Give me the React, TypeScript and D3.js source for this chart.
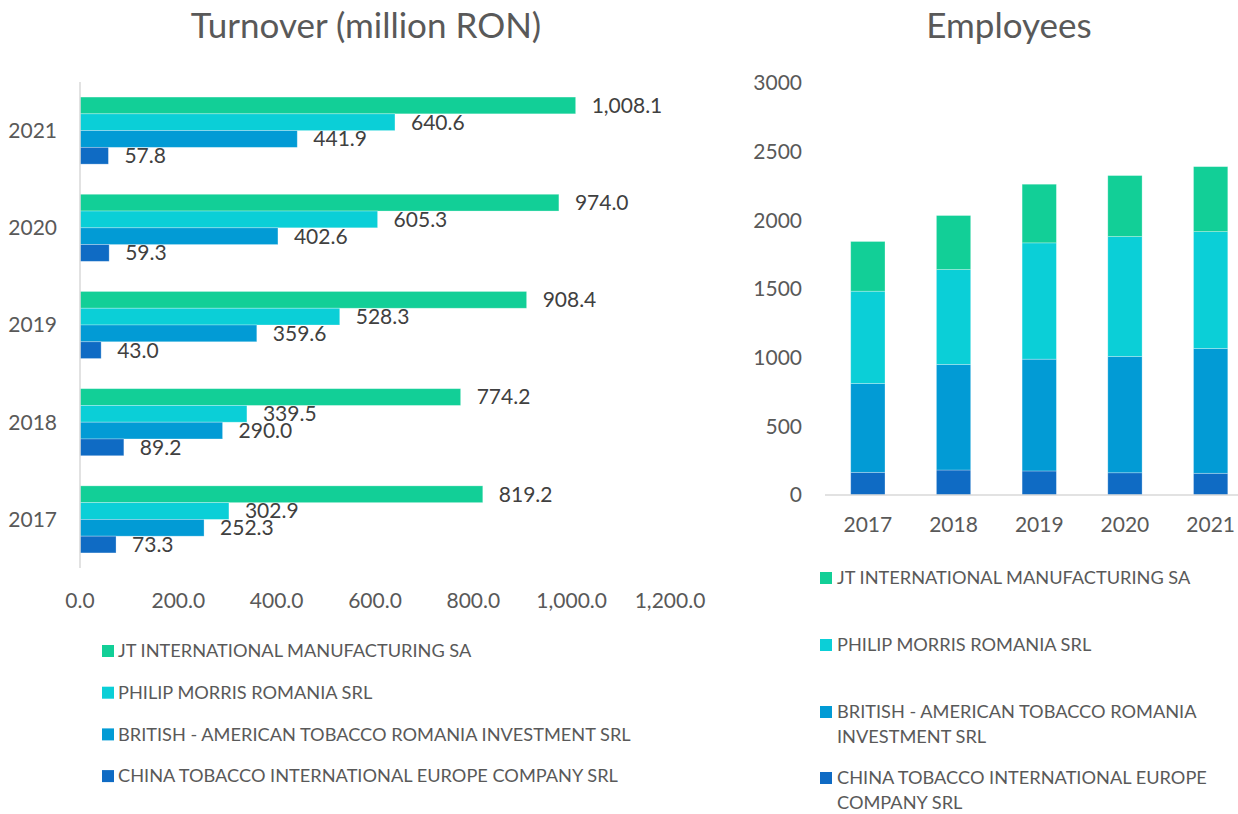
import React from "react";
import * as d3 from "d3";

const years = ["2017", "2018", "2019", "2020", "2021"];
const seriesNames = [
  "JT INTERNATIONAL MANUFACTURING SA",
  "PHILIP MORRIS ROMANIA SRL",
  "BRITISH - AMERICAN TOBACCO ROMANIA INVESTMENT SRL",
  "CHINA TOBACCO INTERNATIONAL EUROPE COMPANY SRL",
];
const seriesColors = ["#12CF97", "#0BCFD7", "#029BD5", "#0F6BC4"];

// Turnover (million RON)
const turnoverJT = [819.2, 774.2, 908.4, 974.0, 1008.1];
const turnoverPM = [302.9, 339.5, 528.3, 605.3, 640.6];
const turnoverBAT = [252.3, 290.0, 359.6, 402.6, 441.9];
const turnoverChina = [73.3, 89.2, 43.0, 59.3, 57.8];
const turnoverTicks = [0, 200, 400, 600, 800, 1000, 1200];

// Employees
const employeesJT = [362, 393, 427, 444, 473];
const employeesPM = [672, 691, 847, 873, 851];
const employeesBAT = [647, 769, 814, 847, 909];
const employeesChina = [165, 182, 175, 162, 158];
const employeeTicks = [0, 500, 1000, 1500, 2000, 2500, 3000];

const rightLegendLines = [
  ["JT INTERNATIONAL MANUFACTURING SA"],
  ["PHILIP MORRIS ROMANIA SRL"],
  ["BRITISH - AMERICAN TOBACCO ROMANIA", "INVESTMENT SRL"],
  ["CHINA TOBACCO INTERNATIONAL EUROPE", "COMPANY SRL"],
];

const FONT = "Lato, 'Open Sans', sans-serif";
const TXT = "#595959";
const NUM = 21;
const LEG = 18.2;

export default function App() {
  const turnover = [turnoverJT, turnoverPM, turnoverBAT, turnoverChina];
  const employees = [employeesJT, employeesPM, employeesBAT, employeesChina];

  // Left chart scales
  const x = d3.scaleLinear().domain([0, 1200]).range([80, 670]);
  const yBand = d3
    .scaleBand<string>()
    .domain([...years].reverse())
    .range([82, 568])
    .paddingInner(0.31)
    .paddingOuter(0.155);
  const ySub = d3
    .scaleBand<string>()
    .domain(seriesNames)
    .range([0, yBand.bandwidth()]);
  const fmt = d3.format(",.1f");

  // Right chart scales
  const xr = d3
    .scaleBand<string>()
    .domain(years)
    .range([825, 1253.5])
    .paddingInner(0.6)
    .paddingOuter(0.3);
  const yr = d3.scaleLinear().domain([0, 3000]).range([495, 83]);

  const stackData = years.map((yr0, i) => {
    const o: any = { year: yr0 };
    seriesNames.forEach((s, k) => (o[s] = employees[k][i]));
    return o;
  });
  const stackOrder = [...seriesNames].reverse(); // China at bottom
  const stacked = d3.stack<any>().keys(stackOrder)(stackData);

  return (
    <svg
      width={1238}
      height={814}
      style={{ position: "absolute", left: 0, top: 0, background: "#fff" }}
      fontFamily={FONT}
    >
      {/* Left title */}
      <text x={366} y={38} textAnchor="middle" fontSize={35} fill={TXT}>
        Turnover (million RON)
      </text>

      {/* Left bars */}
      {years.map((yv, i) =>
        seriesNames.map((s, k) => {
          const v = turnover[k][i];
          const y0 = (yBand(yv) as number) + (ySub(s) as number);
          const h = ySub.bandwidth();
          return (
            <g key={yv + s}>
              <rect
                x={x(0)}
                y={y0}
                width={x(v) - x(0)}
                height={h}
                fill={seriesColors[k]}
                stroke="#ffffff"
                strokeOpacity={0.35}
                strokeWidth={0.8}
              />
              <text
                x={x(v) + 16}
                y={y0 + h / 2}
                dy="0.35em"
                fontSize={NUM}
                fill="#404040"
              >
                {fmt(v)}
              </text>
            </g>
          );
        })
      )}
      {/* Left axis line */}
      <line x1={80} x2={80} y1={82} y2={568} stroke="#d9d9d9" strokeWidth={1.5} />
      {/* Category labels */}
      {years.map((yv) => (
        <text
          key={yv}
          x={57}
          y={(yBand(yv) as number) + yBand.bandwidth() / 2}
          dy="0.35em"
          textAnchor="end"
          fontSize={NUM}
          fill={TXT}
        >
          {yv}
        </text>
      ))}
      {/* X tick labels */}
      {turnoverTicks.map((t) => (
        <text key={t} x={x(t)} y={601} dy="0.35em" textAnchor="middle" fontSize={NUM} fill={TXT}>
          {fmt(t)}
        </text>
      ))}
      {/* Left legend */}
      {seriesNames.map((s, k) => (
        <g key={s} transform={`translate(102, ${651 + k * 41.7})`}>
          <rect x={0} y={-6} width={12} height={12} fill={seriesColors[k]} />
          <text x={16} y={0} dy="0.35em" fontSize={LEG} fill={TXT}>
            {s}
          </text>
        </g>
      ))}

      {/* Right title */}
      <text x={1009} y={38} textAnchor="middle" fontSize={35} fill={TXT}>
        Employees
      </text>
      {/* Right y ticks */}
      {employeeTicks.map((t) => (
        <text key={t} x={802} y={yr(t)} dy="0.35em" textAnchor="end" fontSize={NUM} fill={TXT}>
          {t}
        </text>
      ))}
      {/* Stacked bars */}
      {stacked.map((layer) => {
        const k = seriesNames.indexOf(layer.key);
        return (
          <g key={layer.key}>
            {layer.map((d, i) => (
              <rect
                key={i}
                x={xr(years[i]) as number}
                y={yr(d[1])}
                width={xr.bandwidth()}
                height={yr(d[0]) - yr(d[1])}
                fill={seriesColors[k]}
                stroke="#ffffff"
                strokeOpacity={0.35}
                strokeWidth={0.8}
              />
            ))}
          </g>
        );
      })}
      <line x1={825} x2={1238} y1={495} y2={495} stroke="#d9d9d9" strokeWidth={1.5} />
      {years.map((yv) => (
        <text
          key={yv}
          x={(xr(yv) as number) + xr.bandwidth() / 2}
          y={525}
          dy="0.35em"
          textAnchor="middle"
          fontSize={NUM}
          fill={TXT}
        >
          {yv}
        </text>
      ))}
      {/* Right legend */}
      {[578, 645, 712, 778].map((ly, k) => (
        <g key={k} transform={`translate(820, ${ly})`}>
          <rect x={0} y={-6} width={12} height={12} fill={seriesColors[k]} />
          {rightLegendLines[k].map((line, j) => (
            <text key={j} x={17} y={j * 25} dy="0.35em" fontSize={LEG} fill={TXT}>
              {line}
            </text>
          ))}
        </g>
      ))}
    </svg>
  );
}
